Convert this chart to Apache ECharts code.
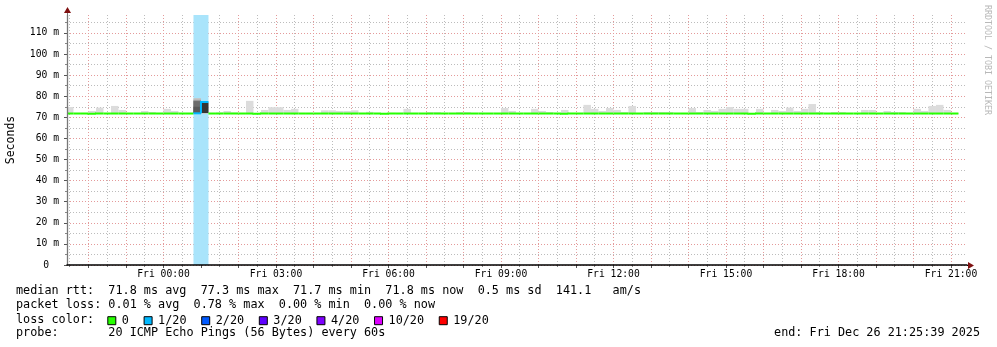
<!DOCTYPE html>
<html><head><meta charset="utf-8">
<script src="https://cdn.jsdelivr.net/npm/echarts@6/dist/echarts.min.js"></script>
<style>html,body{margin:0;padding:0;background:#fff}#c{width:997px;height:347px}</style>
</head><body><div id="c"></div>
<script>
// ================= DATA =================
// x values: minutes relative to Fri Dec 26 2025 00:00
const viewStartMin = -154.35;   // Thu 21:25:39
const viewEndMin = 1285.65;     // Fri 21:25:39
const firstBinStart = -156;     // Thu 21:24 (12-minute consolidated steps)
const binMinutes = 12;

const medianMs = [
  71.8,71.8,71.8,71.7,71.8,71.8,71.8,71.8,71.8,71.8,
  71.8,71.8,71.8,71.8,71.8,71.8,71.8,71.9,77.3,71.8,
  71.8,71.8,71.8,71.8,71.8,71.7,71.8,71.8,71.8,71.8,
  71.8,71.8,71.8,71.8,71.8,71.8,71.8,71.8,71.8,71.8,
  71.8,71.8,71.7,71.8,71.8,71.8,71.8,71.8,71.8,71.8,
  71.8,71.8,71.8,71.8,71.8,71.8,71.8,71.8,71.8,71.8,
  71.8,71.8,71.8,71.8,71.8,71.8,71.7,71.8,71.8,71.8,
  71.8,71.8,71.8,71.8,71.8,71.8,71.8,71.8,71.8,71.8,
  71.8,71.8,71.8,71.8,71.8,71.8,71.8,71.8,71.8,71.8,
  71.8,71.7,71.8,71.8,71.8,71.8,71.8,71.8,71.8,71.8,
  71.8,71.8,71.8,71.8,71.8,71.8,71.8,71.8,71.8,71.8,
  71.8,71.8,71.8,71.8,71.8,71.8,71.8,71.8,71.8,null
];
const smokeMinMs = [
  71.7,71.7,71.7,71.7,71.7,71.7,71.7,71.7,71.7,71.7,
  71.7,71.7,71.7,71.7,71.7,71.7,71.7,71.7,71.7,71.7,
  71.7,71.7,71.7,71.7,71.7,71.7,71.7,71.7,71.7,71.7,
  71.7,71.7,71.7,71.7,71.7,71.7,71.7,71.7,71.7,71.7,
  71.7,71.7,71.7,71.7,71.7,71.7,71.7,71.7,71.7,71.7,
  71.7,71.7,71.7,71.7,71.7,71.7,71.7,71.7,71.7,71.7,
  71.7,71.7,71.7,71.7,71.7,71.7,71.7,71.7,71.7,71.7,
  71.7,71.7,71.7,71.7,71.7,71.7,71.7,71.7,71.7,71.7,
  71.7,71.7,71.7,71.7,71.7,71.7,71.7,71.7,71.7,71.7,
  71.7,71.7,71.7,71.7,71.7,71.7,71.7,71.7,71.7,71.7,
  71.7,71.7,71.7,71.7,71.7,71.7,71.7,71.7,71.7,71.7,
  71.7,71.7,71.7,71.7,71.7,71.7,71.7,71.7,71.7,null
];
const smokeMaxMs = [
  74.9,72.1,72.1,73.0,74.6,72.1,75.4,73.5,72.1,72.1,
  73.0,72.5,72.1,74.0,73.0,72.1,72.1,79.0,77.5,72.1,
  72.3,73.0,72.3,72.1,77.8,72.1,73.5,74.8,74.8,73.5,
  74.0,72.1,72.1,72.1,73.3,73.3,73.0,73.0,73.3,72.1,
  72.6,72.1,72.1,72.1,72.1,74.0,72.1,72.1,72.5,72.5,
  72.1,72.1,72.5,72.5,72.1,72.1,72.1,72.1,74.4,73.0,
  72.1,72.1,74.0,73.0,72.5,72.1,73.5,72.1,72.1,75.9,
  74.0,73.0,74.4,73.5,72.5,75.4,72.1,72.5,72.5,72.5,
  72.5,72.1,72.1,74.4,72.5,73.5,73.0,74.0,74.9,74.0,
  74.0,72.1,74.0,72.1,73.5,73.0,74.6,73.0,74.0,76.3,
  72.5,72.1,72.5,72.5,72.1,72.1,73.5,73.5,72.1,73.0,
  72.5,72.5,72.1,74.0,73.0,75.4,75.9,73.5,72.1,null
];
// lost pings (of 20) per bin
const lossCount = [
  0,0,0,0,0,0,0,0,0,0, 0,0,0,0,0,0,0,1,1,0,
  0,0,0,0,0,0,0,0,0,0, 0,0,0,0,0,0,0,0,0,0,
  0,0,0,0,0,0,0,0,0,0, 0,0,0,0,0,0,0,0,0,0,
  0,0,0,0,0,0,0,0,0,0, 0,0,0,0,0,0,0,0,0,0,
  0,0,0,0,0,0,0,0,0,0, 0,0,0,0,0,0,0,0,0,0,
  0,0,0,0,0,0,0,0,0,0, 0,0,0,0,0,0,0,0,0,null
];
// denser smoke layers in the lossy bins: [bin, top ms, bottom ms, depth]
const lossSmokeLayers = [
  [17, 79.0, 72.0, 1],
  [17, 78.2, 72.0, 2],
  [17, 77.7, 72.0, 3],
  [17, 75.0, 72.0, 4],
  [18, 76.9, 72.0, 5]
];
const lossLevels = ['0', '1/20', '2/20', '3/20', '4/20', '10/20', '19/20'];
const lossThresholds = [0, 1, 2, 3, 4, 10, 19];

const xTickMinutes = [0, 180, 360, 540, 720, 900, 1080, 1260];
const xTickLabels = ['Fri 00:00','Fri 03:00','Fri 06:00','Fri 09:00','Fri 12:00','Fri 15:00','Fri 18:00','Fri 21:00'];
const yTickLabels = ['0','10 m','20 m','30 m','40 m','50 m','60 m','70 m','80 m','90 m','100 m','110 m'];
const yMax = 118.5;

const statLines = [
  'median rtt:  71.8 ms avg  77.3 ms max  71.7 ms min  71.8 ms now  0.5 ms sd  141.1   am/s',
  'packet loss: 0.01 % avg  0.78 % max  0.00 % min  0.00 % now'
];
const lossColorTitle = 'loss color:';
const probeLine = 'probe:       20 ICMP Echo Pings (56 Bytes) every 60s';
const endLabel = 'end: Fri Dec 26 21:25:39 2025';
const watermark = 'RRDTOOL / TOBI OETIKER';

// ================= STYLE / LAYOUT =================
const MONO = '"DejaVu Sans Mono", "Liberation Mono", monospace';
const lossColors = ['#26ff00','#00b8ff','#0059ff','#5e00ff','#7e00ff','#dd00ff','#ff0000'];
const depthShades = {1:'#bdbdbd', 2:'#9c9c9c', 3:'#6c6c6c', 4:'#585858', 5:'#353535'};
const G = {left: 67, top: 15, width: 900, height: 250};
const pxPerMin = G.width / (viewEndMin - viewStartMin);
const pxPerMs = G.height / yMax;
const NOB = {outerBoundsMode: 'none', containLabel: false};
function xGrid(a, b) { return Object.assign({left: G.left + (a - viewStartMin) * pxPerMin, top: G.top, width: (b - a) * pxPerMin, height: G.height}, NOB); }
function yGrid(a, b) { return Object.assign({left: G.left, width: G.width, top: G.top + (yMax - b) * pxPerMs, height: (b - a) * pxPerMs}, NOB); }

const GREY_GRID = {color: '#bcbcbc', width: 1, type: [1, 2]};
const RED_GRID = {color: '#e49a9a', width: 1, type: [1, 2]};

function binStart(i) { return firstBinStart + i * binMinutes; }
function levelOf(n) { let k = 0; for (let j = 0; j < lossThresholds.length; j++) if (n >= lossThresholds[j]) k = j; return k; }

// ---------- series data ----------
const bandData = [], smokeData = [];
for (let i = 0; i < medianMs.length; i++) {
  if (medianMs[i] == null) continue;
  const s = binStart(i), e = s + binMinutes;
  if (lossCount[i] > 0) bandData.push([s, e, 0, yMax]);
  smokeData.push([s, e, smokeMinMs[i], smokeMaxMs[i]]);
}
const lossSmokeData = lossSmokeLayers.map(l => [binStart(l[0]), binStart(l[0]) + binMinutes, l[2], l[1], l[3]]);

function rectRender(colorFn) {
  return function (params, api) {
    const p1 = api.coord([api.value(0), api.value(3)]);
    const p2 = api.coord([api.value(1), api.value(2)]);
    return {type: 'rect', shape: {x: p1[0], y: p1[1], width: p2[0] - p1[0], height: p2[1] - p1[1]},
            style: {fill: colorFn(api)}};
  };
}

function prevMedian(i, k) {
  const same = i > 0 && medianMs[i - 1] != null && levelOf(lossCount[i - 1]) === k;
  return same ? medianMs[i - 1] : medianMs[i];
}
const medianSeries = lossLevels.map((name, k) => {
  const data = [];
  for (let i = 0; i < medianMs.length; i++) {
    if (medianMs[i] == null || levelOf(lossCount[i]) !== k) continue;
    data.push([binStart(i), binStart(i) + binMinutes, prevMedian(i, k), medianMs[i]]);
  }
  return {
    type: 'custom', name: name, xAxisIndex: 0, yAxisIndex: 0, clip: true, z: 5,
    itemStyle: {color: lossColors[k]},
    data: data,
    renderItem: function (params, api) {
      const a = api.coord([api.value(0), api.value(2)]);
      const b = api.coord([api.value(0), api.value(3)]);
      const c = api.coord([api.value(1), api.value(3)]);
      return {type: 'polyline', shape: {points: [a, b, c]}, style: {stroke: lossColors[k], lineWidth: 2, fill: null}};
    }
  };
});

const txt = (text, x, y, extra) => ({
  type: 'text', x: x, y: y, silent: true,
  style: Object.assign({text: text, font: '11.8px ' + MONO, fill: '#000', textAlign: 'left', textVerticalAlign: 'middle', align: 'left', verticalAlign: 'middle'}, extra || {})
});

const chart = echarts.init(document.getElementById('c'), null, {renderer: 'canvas'});
chart.setOption({
  animation: false,
  backgroundColor: '#ffffff',
  textStyle: {fontFamily: MONO},
  grid: [
    Object.assign({}, G, NOB),
    xGrid(-150, 1230),
    xGrid(-120, 1260),
    yGrid(5, 115),
    yGrid(0, 110)
  ],
  xAxis: [
    {gridIndex: 0, type: 'value', min: viewStartMin, max: viewEndMin, z: 10,
     axisLine: {show: true, onZero: false, lineStyle: {color: '#000', width: 1.5}}, axisTick: {show: false}, axisLabel: {show: false}, splitLine: {show: false}},
    {gridIndex: 1, type: 'value', min: -150, max: 1230, interval: 60,
     axisLine: {show: false, onZero: false}, axisTick: {show: true, length: 2, lineStyle: {color: '#888'}}, axisLabel: {show: false},
     splitLine: {show: true, lineStyle: GREY_GRID}},
    {gridIndex: 2, type: 'value', min: -120, max: 1260, interval: 60,
     axisLine: {show: false, onZero: false}, axisTick: {show: true, length: 3, lineStyle: {color: '#555'}},
     axisLabel: {show: true, margin: 4, fontSize: 9.7, fontFamily: MONO, color: '#000',
       formatter: v => { const k = xTickMinutes.indexOf(Math.round(v)); return k >= 0 ? xTickLabels[k] : ''; }},
     splitLine: {show: true, lineStyle: RED_GRID}},
    {gridIndex: 3, type: 'value', show: false, min: 0, max: 1, axisLine: {onZero: false}},
    {gridIndex: 4, type: 'value', show: false, min: 0, max: 1, axisLine: {onZero: false}}
  ],
  yAxis: [
    {gridIndex: 0, type: 'value', min: 0, max: yMax, z: 10,
     name: 'Seconds', nameLocation: 'middle', nameGap: 49.5,
     nameTextStyle: {fontSize: 11.5, fontFamily: MONO, color: '#000'},
     axisLine: {show: true, onZero: false, lineStyle: {color: '#777', width: 1.3}}, axisTick: {show: false}, axisLabel: {show: false}, splitLine: {show: false}},
    {gridIndex: 1, type: 'value', show: false, min: 0, max: 1, axisLine: {onZero: false}},
    {gridIndex: 2, type: 'value', show: false, min: 0, max: 1, axisLine: {onZero: false}},
    {gridIndex: 3, type: 'value', min: 5, max: 115, interval: 10,
     axisLine: {show: false, onZero: false}, axisTick: {show: true, length: 2, lineStyle: {color: '#888'}}, axisLabel: {show: false},
     splitLine: {show: true, lineStyle: GREY_GRID}},
    {gridIndex: 4, type: 'value', min: 0, max: 110, interval: 10,
     axisLine: {show: false, onZero: false}, axisTick: {show: true, length: 3, lineStyle: {color: '#555'}},
     axisLabel: {show: true, margin: 8, fontSize: 9.7, fontFamily: MONO, color: '#000',
       formatter: v => { const i = Math.round(v / 10); return i === 0 ? '{z|' + yTickLabels[0] + '}' : yTickLabels[i]; },
       rich: {z: {fontSize: 9.7, fontFamily: MONO, color: '#000', padding: [0, 10, 0, 0]}}},
     splitLine: {show: true, lineStyle: RED_GRID}}
  ],
  legend: {
    data: lossLevels, left: 107.3, top: 314.7, orient: 'horizontal', padding: 0,
    itemWidth: 10, itemHeight: 8, itemGap: 14.7, selectedMode: false,
    icon: 'path://M0,0L8,0L8,8L0,8Z',
    itemStyle: {borderColor: '#000', borderWidth: 1},
    textStyle: {fontSize: 11.8, fontFamily: MONO, color: '#000'}
  },
  series: [
    {type: 'custom', name: 'loss band', xAxisIndex: 0, yAxisIndex: 0, clip: true, z: 2, silent: true,
     data: bandData, renderItem: rectRender(() => '#a9e4fb')},
    {type: 'custom', name: 'smoke', xAxisIndex: 0, yAxisIndex: 0, clip: true, z: 3, silent: true,
     data: smokeData, renderItem: rectRender(() => '#dcdcdc')},
    {type: 'custom', name: 'smoke dense', xAxisIndex: 0, yAxisIndex: 0, clip: true, z: 4, silent: true,
     data: lossSmokeData, renderItem: rectRender(api => depthShades[api.value(4)])}
  ].concat(medianSeries),
  graphic: [
    txt(statLines[0], 16, 291),
    txt(statLines[1], 16, 305),
    txt(lossColorTitle, 16, 319.5),
    txt(probeLine, 16, 333),
    txt(endLabel, 980, 333, {textAlign: 'right', align: 'right'}),
    {type: 'text', x: 987, y: 5, rotation: -Math.PI / 2, silent: true,
     style: {text: watermark, font: '8.3px ' + MONO, fill: '#b8b8b8', textAlign: 'left', align: 'left', textVerticalAlign: 'middle', verticalAlign: 'middle'}},
    {type: 'line', silent: true, shape: {x1: 67.5, y1: 15, x2: 67.5, y2: 11}, style: {stroke: '#777', lineWidth: 1}},
    {type: 'polygon', silent: true, z: 20, shape: {points: [[64, 13], [67.5, 7], [71, 13]]}, style: {fill: '#7f1010'}},
    {type: 'line', silent: true, shape: {x1: 967, y1: 265.5, x2: 969, y2: 265.5}, style: {stroke: '#000', lineWidth: 1}},
    {type: 'polygon', silent: true, z: 20, shape: {points: [[968, 262], [974, 265.5], [968, 269]]}, style: {fill: '#7f1010'}}
  ]
});
</script>
</body></html>
